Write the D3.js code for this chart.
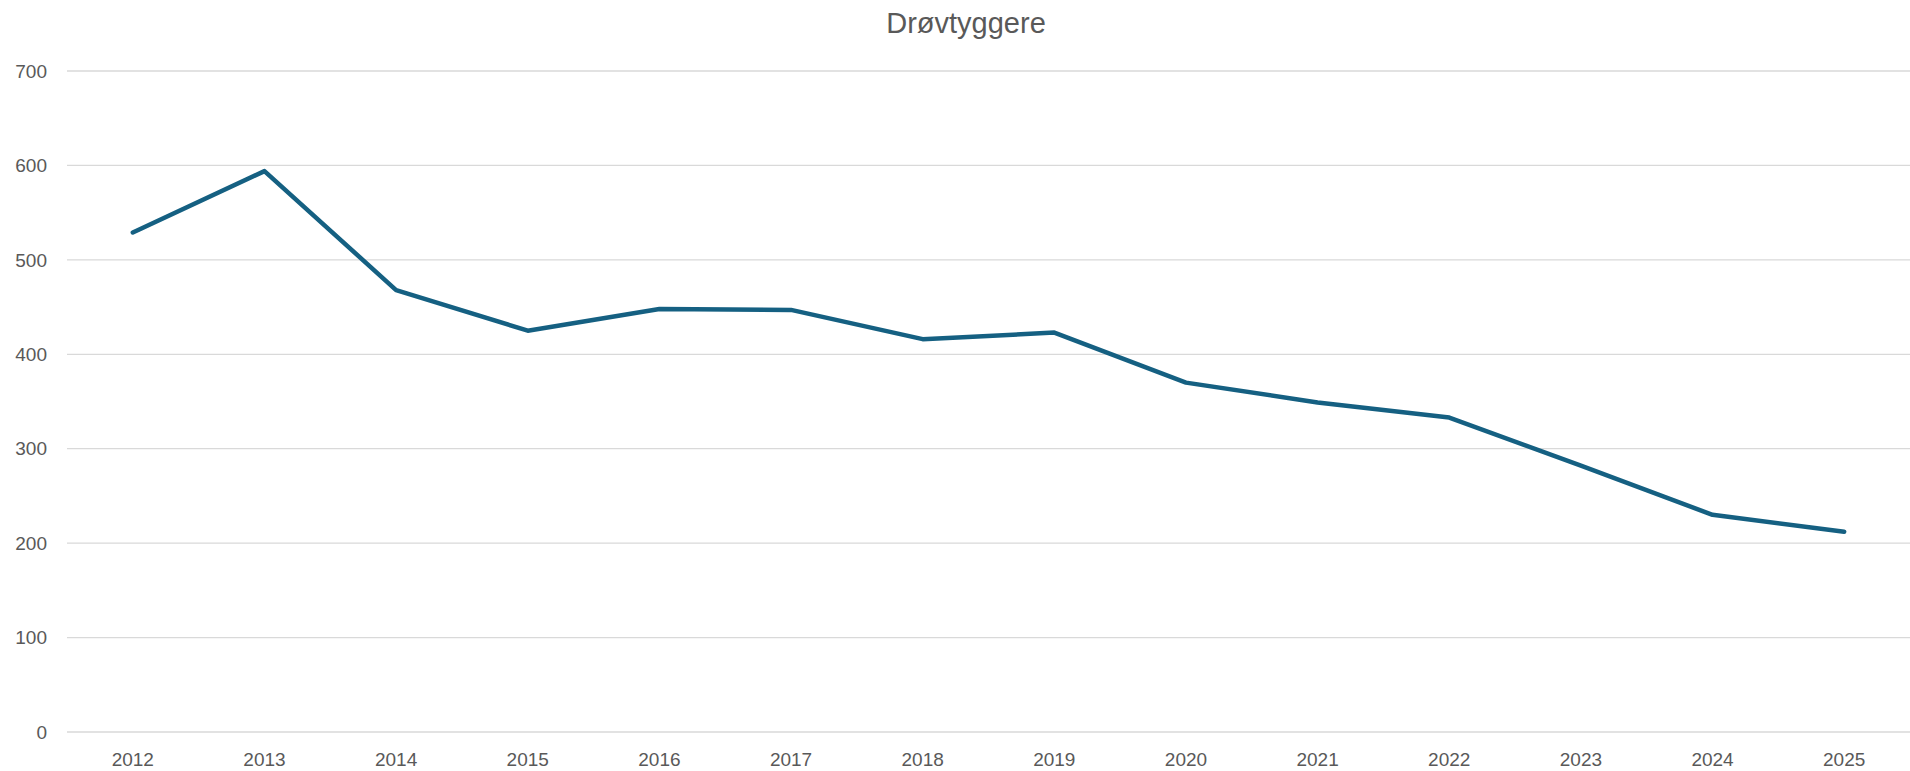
<!DOCTYPE html>
<html>
<head>
<meta charset="utf-8">
<script src="https://cdn.jsdelivr.net/npm/d3@7"></script>
<style>
  body { margin: 0; background: #fff; }
  text { font-family: "Liberation Sans", Arial, sans-serif; fill: #595959; }
</style>
</head>
<body>
<div id="chart"></div>
<script>
// Data
const years = ['2012', '2013', '2014', '2015', '2016', '2017', '2018', '2019', '2020', '2021', '2022', '2023', '2024', '2025'];
const values = [529, 594, 468, 425, 448, 447, 416, 423, 370, 349, 333, 282, 230, 212];
const yTicks = [0, 100, 200, 300, 400, 500, 600, 700];
const title = 'Drøvtyggere';

const W = 1910, H = 771;
const margin = { top: 71, right: 0, bottom: 39, left: 67 };

const svg = d3.select('#chart')
    .append('svg')
    .attr('width', W)
    .attr('height', H);

const x = d3.scaleBand()
    .domain(years)
    .range([margin.left, W - margin.right]);

const y = d3.scaleLinear()
    .domain([0, 700])
    .range([H - margin.bottom, margin.top]);

// Gridlines
svg.append('g')
    .selectAll('line')
    .data(yTicks)
    .enter()
    .append('line')
    .attr('x1', margin.left)
    .attr('x2', W - margin.right)
    .attr('y1', d => y(d))
    .attr('y2', d => y(d))
    .attr('stroke', '#d9d9d9')
    .attr('stroke-width', 1.3);

// Y axis labels
svg.append('g')
    .selectAll('text')
    .data(yTicks)
    .enter()
    .append('text')
    .attr('x', 47)
    .attr('y', d => y(d))
    .attr('dy', '0.35em')
    .attr('text-anchor', 'end')
    .style('font-size', '19px')
    .text(d => d);

// X axis labels
svg.append('g')
    .selectAll('text')
    .data(years)
    .enter()
    .append('text')
    .attr('x', d => x(d) + x.bandwidth() / 2)
    .attr('y', 766)
    .attr('text-anchor', 'middle')
    .style('font-size', '19px')
    .text(d => d);

// Line
const line = d3.line()
    .x((d, i) => x(years[i]) + x.bandwidth() / 2)
    .y(d => y(d));

svg.append('path')
    .datum(values)
    .attr('d', line)
    .attr('fill', 'none')
    .attr('stroke', '#156082')
    .attr('stroke-width', 4.5)
    .attr('stroke-linejoin', 'round')
    .attr('stroke-linecap', 'round');

// Title
svg.append('text')
    .attr('x', 966)
    .attr('y', 33)
    .attr('text-anchor', 'middle')
    .style('font-size', '29px')
    .text(title);
</script>
</body>
</html>
